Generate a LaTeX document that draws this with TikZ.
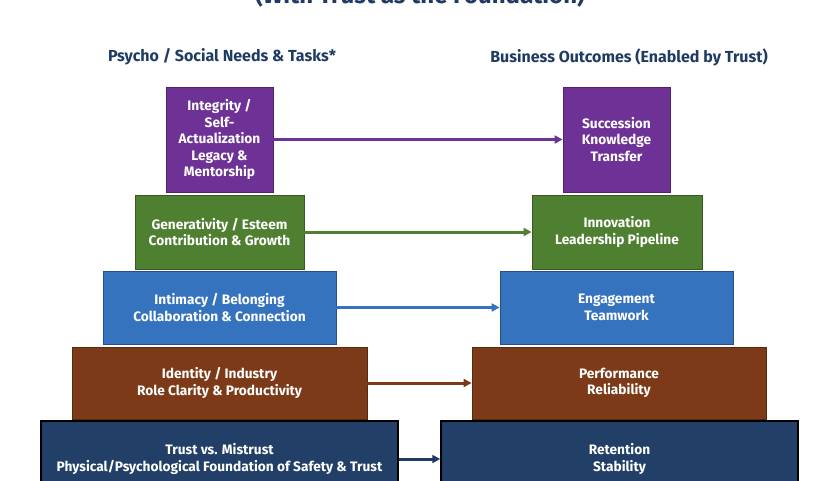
\documentclass[tikz,border=0pt]{standalone}
\usepackage{fontspec}
\setmainfont{Fira Sans}
\usetikzlibrary{arrows.meta}
\begin{document}
\begin{tikzpicture}[x=1pt,y=-1pt,
 box/.style={draw=#1!70!black,fill=#1,line width=0.8pt,text=white,font=\bfseries\fontsize{13.7}{16.5}\selectfont,align=center,inner sep=0pt},
 arr/.style={draw=#1,line width=3pt,-{Triangle[length=8pt,width=8pt]}},
 hdr/.style={text=navy,font=\bfseries\fontsize{16}{18}\selectfont}]
\definecolor{purp}{HTML}{6E3296}
\definecolor{grn}{HTML}{4F7F31}
\definecolor{blu}{HTML}{3573BF}
\definecolor{brn}{HTML}{7C3A18}
\definecolor{navy}{HTML}{1F3B63}
\definecolor{nav2}{HTML}{213F67}
\clip (0,0) rectangle (840,480);
\useasboundingbox (0,0) rectangle (840,480);
\node[text=navy,font=\bfseries\fontsize{24}{26}\selectfont] (title) at (420,-5) {(With Trust as the Foundation)};
\node[hdr] (hl) at (222,57) {Psycho / Social Needs \& Tasks*};
\node[hdr] (hr) at (629,57) {Business Outcomes (Enabled by Trust)};
% left
\node[box=purp,minimum width=107,minimum height=105] (l1) at (219.5,139.5) {Integrity /\\Self-\\Actualization\\Legacy \&\\Mentorship};
\node[box=grn,minimum width=169,minimum height=74] (l2) at (219.5,232) {Generativity / Esteem\\Contribution \& Growth};
\node[box=blu,minimum width=233,minimum height=73] (l3) at (219.5,307.5) {Intimacy / Belonging\\Collaboration \& Connection};
\node[box=brn,minimum width=295,minimum height=72] (l4) at (219.5,383) {Identity / Industry\\Role Clarity \& Productivity};
\node[draw=black,line width=1.5pt,fill=nav2,text=white,font=\bfseries\fontsize{13.7}{16.5}\selectfont,align=center,minimum width=357,minimum height=76] (l5) at (219.5,459) {Trust vs. Mistrust\\Physical/Psychological Foundation of Safety \& Trust};
% right
\node[box=purp,minimum width=107,minimum height=105] (r1) at (616.5,139.5) {Succession\\Knowledge\\Transfer};
\node[box=grn,minimum width=170,minimum height=74] (r2) at (617,232) {Innovation\\Leadership Pipeline};
\node[box=blu,minimum width=233,minimum height=73] (r3) at (616.5,307.5) {Engagement\\Teamwork};
\node[box=brn,minimum width=294,minimum height=72] (r4) at (619,383) {Performance\\Reliability};
\node[draw=black,line width=1.5pt,fill=nav2,text=white,font=\bfseries\fontsize{13.7}{16.5}\selectfont,align=center,minimum width=357,minimum height=76] (r5) at (619.5,459) {Retention\\Stability};
\draw[arr=purp] (l1.east) -- (r1.west);
\draw[arr=grn] (l2.east) -- (r2.west);
\draw[arr=blu] (l3.east) -- (r3.west);
\draw[arr=brn] (l4.east) -- (r4.west);
\draw[arr=navy] (l5.east) -- (r5.west);
\end{tikzpicture}
\end{document}
